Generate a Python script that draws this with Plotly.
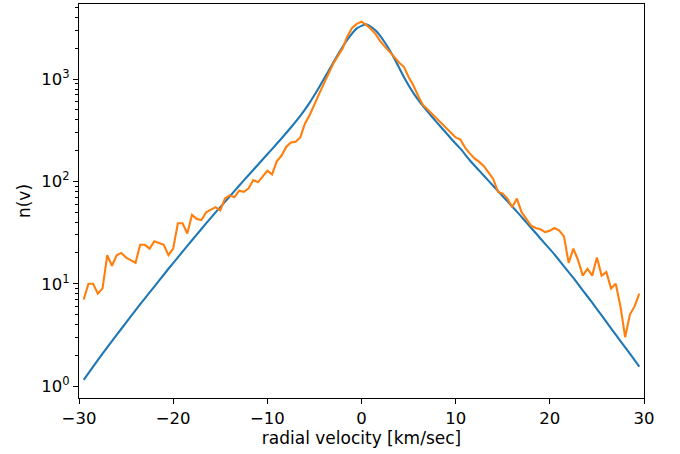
import plotly.graph_objects as go

# radial velocity bins [km/sec]
velocity = [
    -29.5, -29.0, -28.5, -28.0, -27.5, -27.0, -26.5, -26.0, -25.5, -25.0,
    -24.5, -24.0, -23.5, -23.0, -22.5, -22.0, -21.5, -21.0, -20.5, -20.0,
    -19.5, -19.0, -18.5, -18.0, -17.5, -17.0, -16.5, -16.0, -15.5, -15.0,
    -14.5, -14.0, -13.5, -13.0, -12.5, -12.0, -11.5, -11.0, -10.5, -10.0,
    -9.5, -9.0, -8.5, -8.0, -7.5, -7.0, -6.5, -6.0, -5.5, -5.0,
    -4.5, -4.0, -3.5, -3.0, -2.5, -2.0, -1.5, -1.0, -0.5, 0.0,
    0.5, 1.0, 1.5, 2.0, 2.5, 3.0, 3.5, 4.0, 4.5, 5.0,
    5.5, 6.0, 6.5, 7.0, 7.5, 8.0, 8.5, 9.0, 9.5, 10.0,
    10.5, 11.0, 11.5, 12.0, 12.5, 13.0, 13.5, 14.0, 14.5, 15.0,
    15.5, 16.0, 16.5, 17.0, 17.5, 18.0, 18.5, 19.0, 19.5, 20.0,
    20.5, 21.0, 21.5, 22.0, 22.5, 23.0, 23.5, 24.0, 24.5, 25.0,
    25.5, 26.0, 26.5, 27.0, 27.5, 28.0, 28.5, 29.0, 29.5,
]
observed = [
    7, 10, 10, 8, 9, 19, 15, 19, 20, 18,
    17, 16, 24, 24, 22, 26, 25, 24, 19, 22,
    39, 39, 31, 47, 43, 42, 50, 53, 56, 52,
    68, 73, 70, 81, 79, 85, 103, 98, 113, 127,
    117, 157, 178, 217, 240, 244, 269, 369, 446, 556,
    716, 902, 1122, 1413, 1679, 1995, 2630, 3162, 3467, 3648,
    3388, 3090, 2754, 2344, 2065, 1862, 1641, 1445, 1318, 1047,
    871, 692, 562, 507, 457, 407, 367, 331, 295, 269,
    257, 214, 188, 168, 155, 141, 122, 105, 79, 76,
    68, 56, 68, 50, 43, 37, 35, 34, 32, 33,
    35, 33, 29, 16, 22, 17, 12, 14, 12, 18,
    12, 13, 9, 10, 6, 3, 5, 6, 8,
]

# model curve
model_velocity = [
    -29.5, -28.5, -27.5, -26.5, -25.5, -24.5, -23.5, -22.5, -21.5, -20.5,
    -19.5, -18.5, -17.5, -16.5, -15.5, -14.5, -13.5, -12.5, -11.5, -10.5,
    -9.5, -8.5, -7.5, -6.5, -5.5, -4.5, -3.5, -2.5, -1.5, -0.5,
    0.5, 1.5, 2.5, 3.5, 4.5, 5.5, 6.5, 7.5, 8.5, 9.5,
    10.5, 11.5, 12.5, 13.5, 14.5, 15.5, 16.5, 17.5, 18.5, 19.5,
    20.5, 21.5, 22.5, 23.5, 24.5, 25.5, 26.5, 27.5, 28.5, 29.5,
]
model = [
    1.15, 1.55, 2.07, 2.75, 3.63, 4.79, 6.31, 8.22, 10.7, 14.0,
    18.1, 23.4, 30.2, 38.9, 49.8, 63.1, 80.4, 102.3, 129.4, 163.7,
    207.0, 263.0, 336.5, 436.5, 588.8, 831.8, 1202, 1738, 2427, 3126,
    3428, 2985, 2265, 1585, 1047, 732.8, 549.5, 426.6, 335.0, 263.0,
    208.9, 161.1, 127.4, 101.2, 80.4, 63.8, 50.7, 39.8, 31.3, 24.5,
    19.3, 14.8, 11.4, 8.61, 6.53, 4.90, 3.67, 2.75, 2.07, 1.55,
]

x_ticks = [-30, -20, -10, 0, 10, 20, 30]
x_ticktext = ["\u221230", "\u221220", "\u221210", "0", "10", "20", "30"]
y_ticks = [1, 10, 100, 1000]
y_ticktext = ["10<sup>0</sup>", "10<sup>1</sup>", "10<sup>2</sup>", "10<sup>3</sup>"]
y_minor_ticks = [m * d for d in (1, 10, 100, 1000) for m in range(2, 10)]

y_range = [-0.117, 3.734]

fig = go.Figure()
fig.add_trace(go.Scatter(x=model_velocity, y=model, mode="lines",
                         line=dict(color="#1f77b4", width=2.1, shape="spline", smoothing=0.6),
                         showlegend=False))
fig.add_trace(go.Scatter(x=velocity, y=observed, mode="lines",
                         line=dict(color="#ff7f0e", width=2.1),
                         showlegend=False))
# invisible trace to host the minor-tick axis
fig.add_trace(go.Scatter(x=[velocity[0]], y=[observed[0]], yaxis="y2", mode="lines",
                         line=dict(width=0), hoverinfo="skip", showlegend=False))

font = dict(family="DejaVu Sans", size=14, color="black")
tickfont = dict(family="DejaVu Sans", size=16.5, color="black")
fig.update_layout(
    width=680, height=454,
    margin=dict(l=79, r=36, t=4, b=56),
    paper_bgcolor="white", plot_bgcolor="white",
    font=font,
    xaxis=dict(range=[-30, 30], tickvals=x_ticks, ticktext=x_ticktext, tickfont=tickfont,
               showgrid=False, zeroline=False, showline=True, linecolor="black",
               linewidth=1.1, mirror=True, ticks="outside", ticklen=5, tickwidth=1.1,
               tickcolor="black",
               title=dict(text="radial velocity [km/sec]", standoff=4)),
    yaxis=dict(type="log", range=y_range, tickvals=y_ticks, ticktext=y_ticktext,
               tickfont=tickfont,
               showgrid=False, zeroline=False, showline=True, linecolor="black",
               linewidth=1.1, mirror=True, ticks="outside", ticklen=5, tickwidth=1.1,
               tickcolor="black",
               title=dict(text="n(v)", standoff=6)),
    yaxis2=dict(type="log", range=y_range, overlaying="y", side="left",
                tickvals=y_minor_ticks, showticklabels=False, showgrid=False,
                zeroline=False, showline=False, ticks="outside", ticklen=3,
                tickwidth=0.8, tickcolor="black"),
)

fig.write_html("out.html")
